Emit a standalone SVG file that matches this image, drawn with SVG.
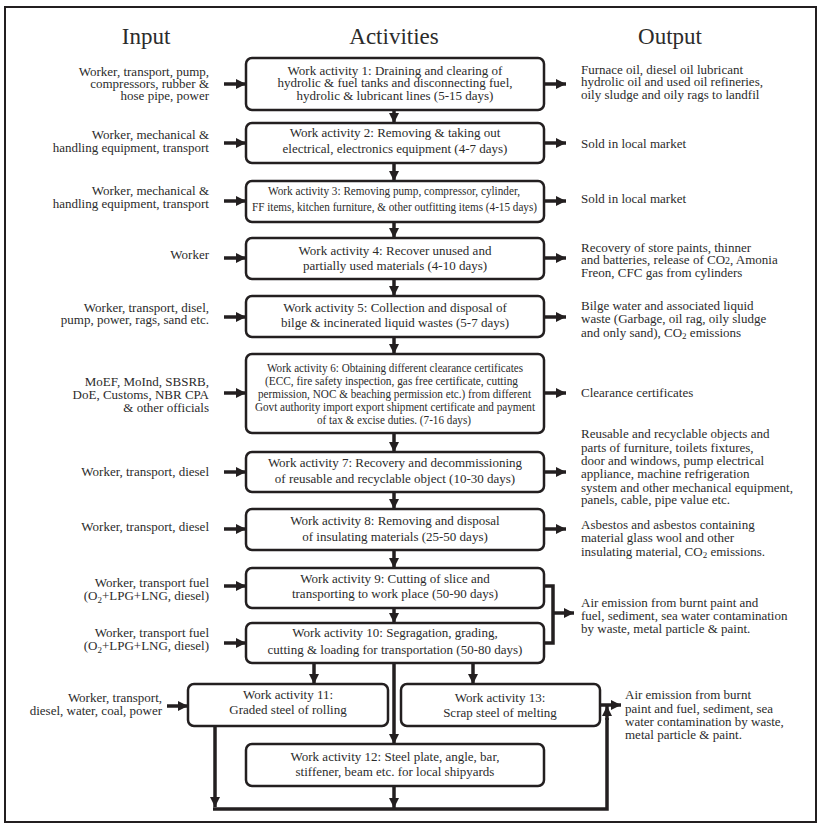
<svg xmlns="http://www.w3.org/2000/svg" width="822" height="829" viewBox="0 0 822 829" font-family="Liberation Serif, Times New Roman, Tinos, Times, serif">
<style>
text{font-family:"Liberation Serif","Times New Roman",Tinos,Times,serif;font-size:13px;fill:#2b2b2b}
.t{font-size:23px}
.in{text-anchor:end}
.c{text-anchor:middle}
.box{fill:#fff;stroke:#231f20;stroke-width:2.5}
.ln{fill:none;stroke:#231f20;stroke-width:3.5}
.ar{fill:none;stroke:#231f20;stroke-width:3.5;marker-end:url(#ah)}
</style>
<defs>
<marker id="ah" markerUnits="userSpaceOnUse" markerWidth="10" markerHeight="10" viewBox="0 0 10 10" refX="10" refY="5" orient="auto"><path d="M0,0 L10,5 L0,10 z" fill="#231f20"/></marker>
</defs>
<rect x="5" y="7" width="811" height="815" fill="#fff" stroke="#231f20" stroke-width="2"/>
<g id="titles">
<text class="t c" x="146" y="44">Input</text>
<text class="t c" x="394" y="44">Activities</text>
<text class="t c" x="670" y="44">Output</text>
</g>
<g id="inputs">
<text class="in"><tspan x="209" y="76">Worker, transport, pump,</tspan><tspan x="209" y="88">compressors, rubber &amp;</tspan><tspan x="209" y="100">hose pipe, power</tspan></text>
<text class="in"><tspan x="209" y="139">Worker, mechanical &amp;</tspan><tspan x="209" y="152">handling equipment, transport</tspan></text>
<text class="in"><tspan x="209" y="195">Worker, mechanical &amp;</tspan><tspan x="209" y="208">handling equipment, transport</tspan></text>
<text class="in" x="209" y="259">Worker</text>
<text class="in"><tspan x="209" y="312">Worker, transport, disel,</tspan><tspan x="209" y="324">pump, power, rags, sand etc.</tspan></text>
<text class="in"><tspan x="209" y="386">MoEF, MoInd, SBSRB,</tspan><tspan x="209" y="399">DoE, Customs, NBR CPA</tspan><tspan x="209" y="412">&amp; other officials</tspan></text>
<text class="in" x="209" y="476">Worker, transport, diesel</text>
<text class="in" x="209" y="531">Worker, transport, diesel</text>
<text class="in"><tspan x="209" y="587">Worker, transport fuel</tspan><tspan x="209" y="600">(O<tspan font-size="9" dy="3">2</tspan><tspan dy="-3">+LPG+LNG, diesel)</tspan></tspan></text>
<text class="in"><tspan x="209" y="637">Worker, transport fuel</tspan><tspan x="209" y="650">(O<tspan font-size="9" dy="3">2</tspan><tspan dy="-3">+LPG+LNG, diesel)</tspan></tspan></text>
<text class="in"><tspan x="162" y="702">Worker, transport,</tspan><tspan x="162" y="715">diesel, water, coal, power</tspan></text>
</g>
<g id="act1"><rect class="box" x="246" y="58" width="298" height="52" rx="6"/>
<text class="c"><tspan x="395" y="75">Work activity 1: Draining and clearing of</tspan><tspan x="395" y="87">hydrolic &amp; fuel tanks and disconnecting fuel,</tspan><tspan x="395" y="100">hydrolic &amp; lubricant lines (5-15 days)</tspan></text></g>
<g id="act2"><rect class="box" x="246" y="123" width="298" height="40" rx="6"/>
<text class="c"><tspan x="395" y="137">Work activity 2: Removing &amp; taking out</tspan><tspan x="395" y="153">electrical, electronics equipment (4-7 days)</tspan></text></g>
<g id="act3"><rect class="box" x="246" y="181" width="298" height="41" rx="6"/>
<text class="c" x="394" y="195" textLength="252" lengthAdjust="spacingAndGlyphs">Work activity 3: Removing pump, compressor, cylinder,</text>
<text class="c" x="394.5" y="211" textLength="285" lengthAdjust="spacingAndGlyphs">FF items, kitchen furniture, &amp; other outfitting items (4-15 days)</text></g>
<g id="act4"><rect class="box" x="246" y="238" width="298" height="41" rx="6"/>
<text class="c"><tspan x="395" y="255">Work activity 4: Recover unused and</tspan><tspan x="395" y="270">partially used materials (4-10 days)</tspan></text></g>
<g id="act5"><rect class="box" x="246" y="296" width="298" height="41" rx="6"/>
<text class="c"><tspan x="395" y="312">Work activity 5: Collection and disposal of</tspan><tspan x="395" y="327">bilge &amp; incinerated liquid wastes (5-7 days)</tspan></text></g>
<g id="act6"><rect class="box" x="246" y="354" width="298" height="79" rx="6"/>
<text class="c" x="395" y="372" textLength="256" lengthAdjust="spacingAndGlyphs">Work activity 6: Obtaining different clearance certificates</text>
<text class="c" x="391.5" y="385" textLength="253" lengthAdjust="spacingAndGlyphs">(ECC, fire safety inspection, gas free certificate, cutting</text>
<text class="c" x="394.5" y="398" textLength="273" lengthAdjust="spacingAndGlyphs">permission, NOC &amp; beaching permission etc.) from different</text>
<text class="c" x="395" y="411" textLength="280" lengthAdjust="spacingAndGlyphs">Govt authority import export shipment certificate and payment</text>
<text class="c" x="394" y="424" textLength="154" lengthAdjust="spacingAndGlyphs">of tax &amp; excise duties. (7-16 days)</text></g>
<g id="act7"><rect class="box" x="246" y="452" width="298" height="40" rx="6"/>
<text class="c"><tspan x="395" y="467">Work activity 7: Recovery and decommissioning</tspan><tspan x="395" y="483">of reusable and recyclable object (10-30 days)</tspan></text></g>
<g id="act8"><rect class="box" x="246" y="509" width="298" height="41" rx="6"/>
<text class="c"><tspan x="395" y="525">Work activity 8: Removing and disposal</tspan><tspan x="395" y="541">of insulating materials (25-50 days)</tspan></text></g>
<g id="act9"><rect class="box" x="246" y="568" width="298" height="40" rx="6"/>
<text class="c"><tspan x="395" y="583">Work activity 9: Cutting of slice and</tspan><tspan x="395" y="598">transporting to work place (50-90 days)</tspan></text></g>
<g id="act10"><rect class="box" x="246" y="623" width="298" height="40" rx="6"/>
<text class="c"><tspan x="395" y="637">Work activity 10: Segragation, grading,</tspan><tspan x="395" y="654">cutting &amp; loading for transportation (50-80 days)</tspan></text></g>
<g id="act11"><rect class="box" x="188" y="684" width="200" height="42" rx="6"/>
<text class="c"><tspan x="288" y="699">Work activity 11:</tspan><tspan x="288" y="714">Graded steel of rolling</tspan></text></g>
<g id="act13"><rect class="box" x="401" y="684" width="199" height="42" rx="6"/>
<text class="c"><tspan x="500" y="702">Work activity 13:</tspan><tspan x="500" y="717">Scrap steel of melting</tspan></text></g>
<g id="act12"><rect class="box" x="246" y="744" width="298" height="42" rx="6"/>
<text class="c"><tspan x="395" y="761">Work activity 12: Steel plate, angle, bar,</tspan><tspan x="395" y="776">stiffener, beam etc. for local shipyards</tspan></text></g>
<g id="outputs">
<text><tspan x="581" y="74">Furnace oil, diesel oil lubricant</tspan><tspan x="581" y="86">hydrolic oil and used oil refineries,</tspan><tspan x="581" y="99">oily sludge and oily rags to landfil</tspan></text>
<text x="581" y="148">Sold in local market</text>
<text x="581" y="203">Sold in local market</text>
<text><tspan x="581" y="252">Recovery of store paints, thinner</tspan><tspan x="581" y="264">and batteries, release of CO<tspan font-size="10">2</tspan>, Amonia</tspan><tspan x="581" y="277">Freon, CFC gas from cylinders</tspan></text>
<text><tspan x="581" y="310">Bilge water and associated liquid</tspan><tspan x="581" y="323">waste (Garbage, oil rag, oily sludge</tspan><tspan x="581" y="337">and only sand), CO<tspan font-size="9" dy="2">2</tspan><tspan dy="-2"> emissions</tspan></tspan></text>
<text x="581" y="397">Clearance certificates</text>
<text><tspan x="581" y="438">Reusable and recyclable objects and</tspan><tspan x="581" y="452">parts of furniture, toilets fixtures,</tspan><tspan x="581" y="465">door and windows, pump electrical</tspan><tspan x="581" y="478">appliance, machine refrigeration</tspan><tspan x="581" y="492">system and other mechanical equipment,</tspan><tspan x="581" y="504">panels, cable, pipe value etc.</tspan></text>
<text><tspan x="581" y="529">Asbestos and asbestos containing</tspan><tspan x="581" y="542">material glass wool and other</tspan><tspan x="581" y="556">insulating material, CO<tspan font-size="9" dy="2">2</tspan><tspan dy="-2"> emissions.</tspan></tspan></text>
<text><tspan x="581" y="607">Air emission from burnt paint and</tspan><tspan x="581" y="620">fuel, sediment, sea water contamination</tspan><tspan x="581" y="633">by waste, metal particle &amp; paint.</tspan></text>
<text><tspan x="625" y="699">Air emission from burnt</tspan><tspan x="625" y="713">paint and fuel, sediment, sea</tspan><tspan x="625" y="726">water contamination by waste,</tspan><tspan x="625" y="739">metal particle &amp; paint.</tspan></text>
</g>
<g id="connectors">
<line class="ar" x1="224" y1="84" x2="246" y2="84"/>
<line class="ar" x1="224" y1="143" x2="246" y2="143"/>
<line class="ar" x1="224" y1="201" x2="246" y2="201"/>
<line class="ar" x1="224" y1="258" x2="246" y2="258"/>
<line class="ar" x1="224" y1="317" x2="246" y2="317"/>
<line class="ar" x1="224" y1="393" x2="246" y2="393"/>
<line class="ar" x1="224" y1="472" x2="246" y2="472"/>
<line class="ar" x1="224" y1="529" x2="246" y2="529"/>
<line class="ar" x1="224" y1="586" x2="246" y2="586"/>
<line class="ar" x1="224" y1="643" x2="246" y2="643"/>
<line class="ar" x1="167" y1="706" x2="188" y2="706"/>
<line class="ar" x1="544" y1="84" x2="566" y2="84"/>
<line class="ar" x1="544" y1="143" x2="566" y2="143"/>
<line class="ar" x1="544" y1="201" x2="566" y2="201"/>
<line class="ar" x1="544" y1="258" x2="566" y2="258"/>
<line class="ar" x1="544" y1="317" x2="566" y2="317"/>
<line class="ar" x1="544" y1="393" x2="566" y2="393"/>
<line class="ar" x1="544" y1="472" x2="566" y2="472"/>
<line class="ar" x1="544" y1="529" x2="566" y2="529"/>
<polyline class="ln" points="544,586 553,586 553,643 544,643"/>
<line class="ar" x1="553" y1="613" x2="574" y2="613"/>
<line class="ar" x1="600" y1="705" x2="621" y2="705"/>
<line class="ar" x1="394" y1="110" x2="394" y2="123"/>
<line class="ar" x1="394" y1="163" x2="394" y2="181"/>
<line class="ar" x1="394" y1="222" x2="394" y2="238"/>
<line class="ar" x1="394" y1="279" x2="394" y2="296"/>
<line class="ar" x1="394" y1="337" x2="394" y2="354"/>
<line class="ar" x1="394" y1="433" x2="394" y2="452"/>
<line class="ar" x1="394" y1="492" x2="394" y2="509"/>
<line class="ar" x1="394" y1="550" x2="394" y2="568"/>
<line class="ar" x1="394" y1="608" x2="394" y2="623"/>
<line class="ar" x1="314" y1="663" x2="314" y2="684"/>
<line class="ar" x1="473" y1="663" x2="473" y2="684"/>
<line class="ar" x1="394" y1="663" x2="394" y2="744"/>
<line class="ar" x1="394" y1="786" x2="394" y2="808"/>
<line class="ar" x1="215" y1="726" x2="215" y2="807"/>
<polyline class="ln" points="213,809 607,809 607,718"/>
<line class="ar" x1="607" y1="720" x2="607" y2="706"/>
</g>
</svg>
